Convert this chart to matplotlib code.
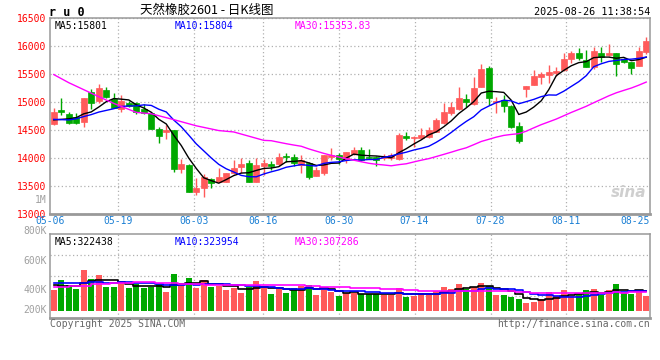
import matplotlib.pyplot as plt
import numpy as np
from matplotlib.transforms import blended_transform_factory

plt.rcParams['font.family'] = ['DejaVu Sans Mono', 'Noto Sans CJK SC']

# date labels on the x axis (trading-day index)
date_labels = ['05-06', '05-19', '06-03', '06-16', '06-30', '07-14', '07-28', '08-11', '08-25']
date_idx = [0, 9, 19, 28, 38, 48, 58, 68, 78]

# daily K-line, 2025-05-06 .. 2025-08-26
opens = [14600, 14860, 14790, 14740, 14640, 15185, 15025, 15215, 15050, 14870,
         14990, 14975, 14870, 14800, 14520, 14470, 14500, 13805, 13875, 13400,
         13470, 13625, 13580, 13580, 13725, 13835, 13905, 13580, 13860, 13890,
         13895, 14040, 14010, 13870, 13905, 13680, 13725, 14025, 14055, 13975,
         14070, 14140, 14025, 14025, 13995, 13995, 13985, 14395, 14350, 14355,
         14380, 14470, 14630, 14800, 14870, 15055, 14965, 15275, 15600, 14995,
         15035, 14935, 14570, 15235, 15305, 15455, 15480, 15525, 15570, 15765,
         15870, 15750, 15630, 15870, 15840, 15870, 15765, 15710, 15650, 15890]
closes = [14820, 14815, 14620, 14620, 15070, 14990, 15250, 15095, 14900, 15020,
          14920, 14815, 14810, 14520, 14395, 14500, 13805, 13895, 13400, 13470,
          13665, 13550, 13665, 13725, 13825, 13890, 13580, 13870, 13905, 13860,
          14010, 14020, 13905, 13965, 13665, 13785, 14055, 14055, 13990, 14105,
          14140, 13965, 14005, 13965, 14035, 14055, 14410, 14365, 14380, 14410,
          14500, 14680, 14820, 14905, 15065, 15000, 15245, 15585, 15065, 15025,
          14935, 14550, 14310, 15285, 15465, 15500, 15540, 15555, 15760, 15880,
          15780, 15630, 15910, 15810, 15880, 15675, 15710, 15615, 15910, 16095]
highs = [14890, 15070, 14830, 14800, 15075, 15230, 15320, 15260, 15155, 15125,
         15025, 15000, 14965, 14830, 14560, 14590, 14505, 13990, 13890, 13640,
         13710, 13650, 13815, 13740, 13965, 13995, 13960, 13995, 13975, 13945,
         14085, 14095, 14070, 14055, 13935, 13835, 14060, 14185, 14085, 14110,
         14190, 14190, 14155, 14030, 14080, 14095, 14450, 14470, 14400, 14530,
         14550, 14710, 14990, 15005, 15275, 15145, 15440, 15680, 15645, 15085,
         15125, 14950, 14650, 15290, 15570, 15540, 15660, 15630, 15870, 15915,
         15960, 15930, 15990, 15990, 16035, 15880, 15785, 15720, 15990, 16165]
lows = [14590, 14770, 14600, 14615, 14560, 14870, 14975, 15065, 14890, 14830,
        14915, 14785, 14780, 14515, 14275, 14340, 13755, 13725, 13395, 13340,
        13300, 13470, 13575, 13570, 13720, 13725, 13570, 13565, 13695, 13785,
        13860, 13935, 13860, 13740, 13625, 13670, 13695, 13965, 13895, 13905,
        14050, 13945, 13975, 13860, 13965, 13965, 13965, 14320, 14190, 14340,
        14350, 14465, 14610, 14770, 14860, 14905, 14955, 15260, 14945, 14810,
        14830, 14540, 14275, 15085, 15300, 15320, 15335, 15465, 15560, 15700,
        15750, 15625, 15585, 15720, 15820, 15465, 15700, 15500, 15640, 15855]
# volume, thousands of lots
volumes = [347, 512, 429, 368, 677, 528, 594, 396, 396, 474,
           380, 450, 384, 396, 446, 314, 611, 429, 545, 380,
           512, 401, 417, 347, 384, 297, 401, 495, 391, 281,
           358, 297, 380, 413, 429, 264, 375, 318, 248, 292,
           302, 281, 276, 281, 264, 264, 380, 231, 252, 302,
           259, 330, 396, 363, 446, 363, 396, 462, 408, 264,
           264, 231, 198, 137, 149, 198, 314, 243, 347, 252,
           276, 347, 363, 264, 347, 446, 297, 281, 347, 252]

# start of the moving averages (needs days before 05-06)
ma5_head = [14680, 14690, 14700, 14720]
ma10_head = [14690, 14685, 14680, 14700, 14740, 14775, 14820, 14850, 14880]
ma30_head_idx = [0, 2, 4, 6, 8, 11, 13, 16, 19, 22, 24, 28]
ma30_head = [15490, 15345, 15220, 15095, 14975, 14815, 14790, 14685, 14575, 14490, 14465, 14315]
vma5_head = [429, 420, 418, 418]
vma10_head = [457, 457, 457, 462, 468, 473, 473, 470, 468]
vma30_head_idx = [0, 4, 6, 9, 12, 15, 18, 22, 26]
vma30_head = [391, 415, 446, 455, 473, 460, 451, 430, 428]


def rolling(vals, n):
    return np.convolve(np.asarray(vals, float), np.ones(n) / n, mode='valid')


n = len(closes)
x = np.arange(n)
o = np.array(opens); c = np.array(closes)
up = c >= o
RED, GREEN = '#ff5a5a', '#00a800'
cols = np.where(up, RED, GREEN)

ma5 = np.concatenate([ma5_head, rolling(closes, 5)])
ma10 = np.concatenate([ma10_head, rolling(closes, 10)])
ma30_x = np.concatenate([ma30_head_idx, np.arange(29, n)])
ma30 = np.concatenate([ma30_head, rolling(closes, 30)])
vma5 = np.concatenate([vma5_head, rolling(volumes, 5)])
vma10 = np.concatenate([vma10_head, rolling(volumes, 10)])
vma30_x = np.concatenate([vma30_head_idx, np.arange(29, n)])
vma30 = np.concatenate([vma30_head, rolling(volumes, 30)])

W, H = 660, 360
fig = plt.figure(figsize=(6.6, 3.6), dpi=100)
ax = fig.add_axes([50 / W, 1 - 214 / H, 600 / W, 196 / H])
axv = fig.add_axes([50 / W, 1 - 318 / H, 600 / W, 84 / H])

# date grid: the date scale runs edge to edge, candles sit at 7.5 px steps
grid_x = [-0.5 + i * n / (n - 1) for i in date_idx[1:-1]]
gridc = '#b0b0b0'

for a in (ax, axv):
    a.set_xlim(-0.5, n - 0.5)
    a.set_xticks(grid_x)
    a.set_xticklabels([])
    a.tick_params(length=0)
    a.grid(True, color=gridc, linestyle=(0, (1, 2)), linewidth=0.9)
    a.set_axisbelow(True)
    for s in a.spines.values():
        s.set_color('#999999')
        s.set_linewidth(1.1)
    a.spines['bottom'].set_linewidth(2)

# candles
ax.vlines(x, lows, highs, colors=cols, linewidth=1)
body_lo = np.minimum(o, c)
body_h = np.maximum(np.abs(c - o), 8)
ax.bar(x, body_h, bottom=body_lo, width=0.75, color=cols, edgecolor=cols, linewidth=0.5)
ax.plot(x, ma5, color='black', lw=1)
ax.plot(x, ma10, color='#0000ff', lw=1)
ax.plot(ma30_x, ma30, color='#ff00ff', lw=1)

ax.set_ylim(13000, 16500)
ax.set_yticks(np.arange(13000, 16501, 500))
ax.set_yticklabels([str(v) for v in range(13000, 16501, 500)], color='#ff0000', fontsize=7)
ax.tick_params(axis='y', pad=3)

ax.text(5 / 600, 0.985, 'MA5:15801', transform=ax.transAxes, fontsize=7, color='black', va='top')
ax.text(125 / 600, 0.985, 'MA10:15804', transform=ax.transAxes, fontsize=7, color='#0000ff', va='top')
ax.text(245 / 600, 0.985, 'MA30:15353.83', transform=ax.transAxes, fontsize=7, color='#ff00ff', va='top')
ax.text(0.965, 0.11, 'sina', transform=ax.transAxes, fontsize=11, color='#cfcfcf',
        style='italic', weight='bold', ha='center', va='center', family='DejaVu Sans')

# date labels under the price panel
tr = blended_transform_factory(ax.transData, ax.transAxes)
for i, lab in zip(date_idx, date_labels):
    gx = -0.5 + i * n / (n - 1)
    ha = 'center'
    if i == date_idx[-1]:
        gx, ha = n - 0.5, 'right'
    ax.text(gx, -0.035, lab, transform=tr, fontsize=7, color='#1a7fd4', ha=ha, va='center')

# volume panel
vy0 = -7 * 16.5
axv.set_ylim(vy0, (311 - 234) * 16.5)
axv.set_yticks([(311 - yy) * 16.5 for yy in (255, 276, 296)])
axv.set_yticklabels([])
axv.bar(x, volumes, width=0.8, color=cols, linewidth=0)
axv.plot(x, vma5, color='black', lw=1.2, drawstyle='steps-mid')
axv.plot(x, vma10, color='#0000ff', lw=1.2, drawstyle='steps-mid')
axv.plot(vma30_x, vma30, color='#ff00ff', lw=1.2, drawstyle='steps-mid')
axv.text(5 / 600, 0.97, 'MA5:322438', transform=axv.transAxes, fontsize=7, color='black', va='top')
axv.text(125 / 600, 0.97, 'MA10:323954', transform=axv.transAxes, fontsize=7, color='#0000ff', va='top')
axv.text(245 / 600, 0.97, 'MA30:307286', transform=axv.transAxes, fontsize=7, color='#ff00ff', va='top')

for lab, py in [('800K', 231), ('600K', 261), ('400K', 290), ('200K', 310), ('1M', 200)]:
    fig.text(47 / W, 1 - py / H, lab, fontsize=7, color='#a0a0a0', ha='right', va='center')

# header and footer
fig.text(49 / W, 1 - 12 / H, 'r u 0', fontsize=8.5, weight='bold', ha='left', va='center')
fig.text(140 / W, 1 - 10 / H, '天然橡胶2601 - 日K线图', fontsize=9, ha='left', va='center',
         family=['Noto Sans CJK SC', 'DejaVu Sans'])
fig.text(650 / W, 1 - 12 / H, '2025-08-26 11:38:54', fontsize=7.3, ha='right', va='center')
fig.text(50 / W, 1 - 324 / H, 'Copyright 2025 SINA.COM', fontsize=7, color='#666666', ha='left', va='center')
fig.text(650 / W, 1 - 324 / H, 'http://finance.sina.com.cn', fontsize=7, color='#666666', ha='right', va='center')

fig.savefig('out.png', dpi=100)
